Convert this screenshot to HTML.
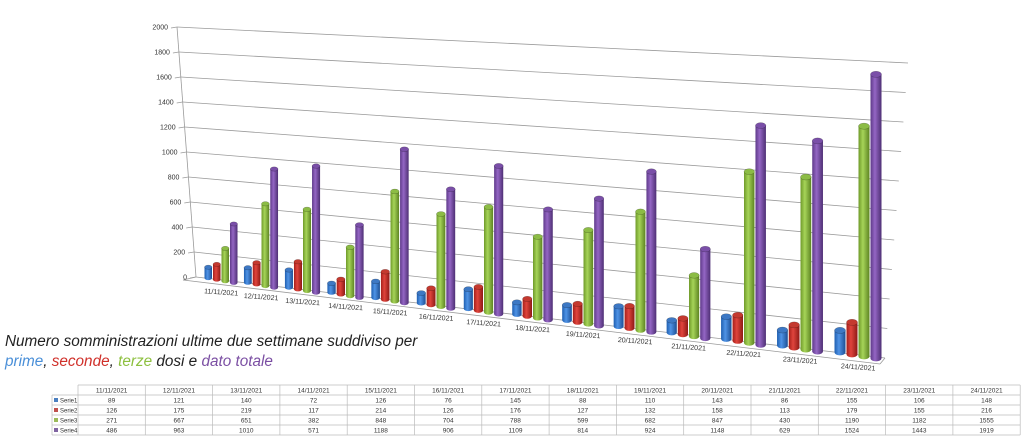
<!DOCTYPE html>
<html><head><meta charset="utf-8"><style>
body{margin:0;background:#fff;width:1024px;height:442px;overflow:hidden;font-family:"Liberation Sans",sans-serif}
svg{position:absolute;left:0;top:0}
</style></head><body>
<svg id="s" width="1024" height="442" xmlns="http://www.w3.org/2000/svg">
<defs>
<linearGradient id="g0" x1="0" x2="1"><stop offset="0" stop-color="#1f5fb0"/><stop offset=".4" stop-color="#4f93e6"/><stop offset="1" stop-color="#1d4f94"/></linearGradient>
<linearGradient id="g1" x1="0" x2="1"><stop offset="0" stop-color="#a51f1a"/><stop offset=".4" stop-color="#e0443c"/><stop offset="1" stop-color="#8e1a16"/></linearGradient>
<linearGradient id="g2" x1="0" x2="1"><stop offset="0" stop-color="#6f9a2a"/><stop offset=".4" stop-color="#a6d458"/><stop offset="1" stop-color="#5d8422"/></linearGradient>
<linearGradient id="g3" x1="0" x2="1"><stop offset="0" stop-color="#5f3a8a"/><stop offset=".4" stop-color="#9466c4"/><stop offset="1" stop-color="#4e2f74"/></linearGradient>
</defs>
<g id="grid"></g><g id="bars"></g><g id="lab" font-size="7" fill="#333"></g>
<text x="5" y="346" font-size="15.3" font-style="italic" fill="#222">Numero  somministrazioni ultime due settimane suddiviso per</text>
<text x="5" y="366" font-size="15.3" font-style="italic"><tspan fill="#4a8fd8">prime</tspan><tspan fill="#222">, </tspan><tspan fill="#d0302a">seconde</tspan><tspan fill="#222">, </tspan><tspan fill="#8dc03f">terze</tspan><tspan fill="#222"> dosi e </tspan><tspan fill="#7b4fa3">dato totale</tspan></text>
<g id="tab" font-size="6.5" fill="#333" text-anchor="middle"></g>
</svg>
<script>
(function(){
var S=[[89,121,140,72,126,76,145,88,110,143,86,155,106,148],[126,175,219,117,214,126,176,127,132,158,113,179,155,216],[271,667,651,382,848,704,788,599,682,847,430,1190,1182,1555],[486,963,1010,571,1188,906,1109,814,924,1148,629,1524,1443,1919]];
var D=[];for(var i=11;i<=24;i++)D.push(i+"/11/2021");
var ns="http://www.w3.org/2000/svg";
function el(p,t,a,txt){var e=document.createElementNS(ns,t);for(var k in a)e.setAttribute(k,a[k]);if(txt!=null)e.textContent=txt;document.getElementById(p).appendChild(e);return e;}
for(var k=0;k<=10;k++){var v=k*200;
 var xl=196-(196-177)*k/10, yl=277-25*k;
 var xr=885+(908-885)*k/10, yr=358-29.5*k;
 el("grid","line",{x1:xl,y1:yl,x2:xr,y2:yr,stroke:"#9a9a9a","stroke-width":0.8});
 el("grid","line",{x1:xl-6,y1:yl+1,x2:xl,y2:yl,stroke:"#9a9a9a","stroke-width":0.8});
 el("lab","text",{x:xl-9,y:yl+2.5,"text-anchor":"end"},v);
}
el("grid","line",{x1:177,y1:27,x2:196,y2:277,stroke:"#9a9a9a","stroke-width":0.8});
el("grid","line",{x1:196,y1:277,x2:183,y2:280,stroke:"#9a9a9a","stroke-width":0.8});
el("grid","line",{x1:183,y1:280,x2:880,y2:364,stroke:"#9a9a9a","stroke-width":0.8});
el("grid","line",{x1:880,y1:364,x2:885,y2:358,stroke:"#9a9a9a","stroke-width":0.8});
var c=221;
for(var i=0;i<14;i++){
 var t=i/13, sp=8.5+3.5*t, w=7.5+3.5*t;
 for(var s=0;s<4;s++){
  var x=c+(s-1.5)*sp, by=277+(x-200)*(80/680)+s*0.6, sc=(0.121+0.027*t);
  var h=S[s][i]*sc, ry=w*0.28;
  el("bars","rect",{x:x-w/2,y:by-h,width:w,height:h,fill:"url(#g"+s+")"});
  el("bars","ellipse",{cx:x,cy:by,rx:w/2,ry:ry,fill:"url(#g"+s+")"});
  el("bars","ellipse",{cx:x,cy:by-h,rx:w/2,ry:ry,fill:["#3d78c4","#c4392f","#8cbc45","#7a4fa8"][s],stroke:"rgba(0,0,0,.35)","stroke-width":0.5});
 }
 var ly=277+(c-200)*(80/680)+15;
 el("lab","text",{x:c,y:ly,"text-anchor":"middle",transform:"rotate(4 "+c+" "+ly+")"},D[i]);
 c+=40+1.5*i;
}
var ty=385,rh=10,x0=78,cw=67.3,xe=x0+14*cw;
el("tab","line",{x1:x0,y1:ty,x2:xe,y2:ty,stroke:"#bbb","stroke-width":0.7});
for(var r=1;r<=5;r++)el("tab","line",{x1:52,y1:ty+r*rh,x2:xe,y2:ty+r*rh,stroke:"#bbb","stroke-width":0.7});
el("tab","line",{x1:52,y1:ty+rh,x2:52,y2:ty+5*rh,stroke:"#bbb","stroke-width":0.7});
for(var j=0;j<=14;j++)el("tab","line",{x1:x0+j*cw,y1:ty,x2:x0+j*cw,y2:ty+5*rh,stroke:"#bbb","stroke-width":0.7});
for(var j=0;j<14;j++){el("tab","text",{x:x0+j*cw+cw/2,y:ty+7.5},D[j]);
 for(var s=0;s<4;s++)el("tab","text",{x:x0+j*cw+cw/2,y:ty+(s+1)*rh+7.5},S[s][j]);}
var col=["#4a7fc0","#c0504d","#9bbb59","#8064a2"];
for(var s=0;s<4;s++){el("tab","rect",{x:54,y:ty+(s+1)*rh+3,width:4,height:4,fill:col[s]});
 el("tab","text",{x:60,y:ty+(s+1)*rh+7.5,"text-anchor":"start","font-size":"6"},"Serie"+(s+1));}
})();
</script>
</body></html>
